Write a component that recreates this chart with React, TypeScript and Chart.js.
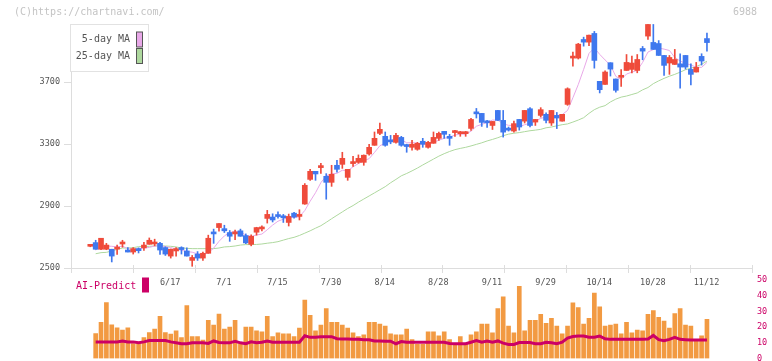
import React, { useEffect, useRef } from "react";
import { Chart, registerables } from "chart.js";
Chart.register(...registerables);

// ---- data (trading days 2025/5/27 .. 11/12) ----
const OPEN = [
  2640, 2664, 2621, 2621, 2621, 2622, 2655, 2616, 2603, 2621,
  2630, 2653, 2655, 2659, 2632, 2577, 2610, 2623, 2610, 2549,
  2590, 2564, 2595, 2726, 2761, 2754, 2729, 2720, 2740, 2709,
  2653, 2731, 2752, 2820, 2829, 2838, 2833, 2794, 2854, 2833,
  2913, 3072, 3124, 3148, 3092, 3053, 3163, 3169, 3085, 3174,
  3182, 3182, 3236, 3292, 3369, 3350, 3322, 3311, 3343, 3290,
  3279, 3266, 3318, 3279, 3305, 3337, 3382, 3342, 3374, 3367,
  3367, 3401, 3500, 3498, 3443, 3420, 3517, 3453, 3395, 3384,
  3459, 3448, 3528, 3442, 3485, 3492, 3436, 3485, 3448, 3556,
  3855, 3855, 3975, 3958, 4014, 3705, 3685, 3825, 3720, 3731,
  3775, 3782, 3775, 3917, 3997, 3956, 3949, 3872, 3823, 3814,
  3818, 3872, 3782, 3765, 3866, 3981,
];
const HIGH = [
  2643, 2679, 2692, 2659, 2621, 2648, 2679, 2632, 2632, 2630,
  2666, 2694, 2686, 2666, 2637, 2623, 2632, 2637, 2630, 2581,
  2606, 2603, 2712, 2751, 2787, 2776, 2742, 2744, 2751, 2720,
  2714, 2763, 2772, 2872, 2850, 2863, 2846, 2848, 2859, 2876,
  3045, 3137, 3124, 3176, 3109, 3163, 3195, 3247, 3137, 3221,
  3230, 3230, 3299, 3378, 3436, 3378, 3356, 3369, 3350, 3299,
  3324, 3311, 3337, 3318, 3378, 3378, 3382, 3363, 3388, 3382,
  3382, 3466, 3530, 3498, 3453, 3446, 3517, 3517, 3410, 3448,
  3459, 3517, 3535, 3459, 3535, 3502, 3517, 3504, 3492, 3663,
  3894, 3950, 3990, 4003, 4027, 3705, 3772, 3825, 3720, 3780,
  3878, 3868, 3878, 3930, 4072, 4072, 3968, 3872, 3872, 3911,
  3883, 3872, 3818, 3827, 3883, 4016,
];
const LOW = [
  2637, 2621, 2619, 2618, 2539, 2588, 2634, 2603, 2590, 2597,
  2614, 2653, 2643, 2588, 2581, 2564, 2577, 2590, 2577, 2511,
  2549, 2549, 2595, 2659, 2737, 2729, 2672, 2683, 2705, 2657,
  2643, 2712, 2740, 2790, 2797, 2822, 2794, 2771, 2822, 2810,
  2911, 3066, 3066, 3111, 2944, 3027, 3118, 3143, 3066, 3156,
  3176, 3163, 3228, 3292, 3360, 3286, 3302, 3305, 3286, 3247,
  3260, 3260, 3279, 3273, 3305, 3324, 3337, 3292, 3350, 3350,
  3350, 3388, 3468, 3414, 3408, 3394, 3453, 3345, 3384, 3377,
  3390, 3436, 3410, 3420, 3474, 3436, 3420, 3400, 3448, 3550,
  3803, 3849, 3932, 3935, 3790, 3630, 3685, 3739, 3635, 3672,
  3775, 3759, 3760, 3844, 3975, 3911, 3872, 3743, 3750, 3814,
  3661, 3784, 3681, 3765, 3810, 3900,
];
const CLOSE = [
  2641, 2621, 2692, 2648, 2577, 2627, 2659, 2603, 2625, 2612,
  2648, 2679, 2658, 2616, 2590, 2621, 2625, 2619, 2577, 2568,
  2564, 2595, 2692, 2720, 2787, 2740, 2705, 2731, 2705, 2662,
  2705, 2761, 2761, 2846, 2810, 2832, 2824, 2833, 2829, 2837,
  3034, 3124, 3107, 3152, 3053, 3105, 3137, 3208, 3137, 3178,
  3208, 3228, 3279, 3337, 3395, 3292, 3314, 3356, 3292, 3284,
  3299, 3305, 3299, 3311, 3343, 3369, 3363, 3337, 3378, 3371,
  3371, 3459, 3495, 3440, 3437, 3446, 3453, 3377, 3390, 3432,
  3410, 3517, 3420, 3459, 3522, 3453, 3517, 3468, 3492, 3657,
  3860, 3945, 3958, 4003, 3840, 3651, 3765, 3784, 3647, 3737,
  3827, 3823, 3846, 3900, 4072, 3911, 3872, 3808, 3859, 3846,
  3797, 3797, 3750, 3795, 3836, 3955,
];
const MA5 = [
  null, 2615, 2640, 2642, 2640, 2636, 2641, 2625, 2620, 2625,
  2628, 2633, 2642, 2643, 2638, 2632, 2622, 2614, 2606, 2602,
  2591, 2586, 2599, 2628, 2672, 2707, 2729, 2737, 2734, 2712,
  2703, 2713, 2719, 2747, 2777, 2802, 2815, 2829, 2826, 2831,
  2871, 2931, 2986, 3051, 3094, 3108, 3111, 3131, 3128, 3153,
  3174, 3192, 3206, 3246, 3289, 3306, 3323, 3339, 3330, 3308,
  3309, 3307, 3296, 3300, 3311, 3325, 3337, 3345, 3358, 3364,
  3364, 3383, 3415, 3427, 3440, 3455, 3454, 3431, 3421, 3420,
  3412, 3425, 3434, 3448, 3466, 3474, 3474, 3484, 3490, 3517,
  3599, 3684, 3782, 3885, 3921, 3879, 3843, 3809, 3737, 3717,
  3752, 3764, 3776, 3827, 3894, 3910, 3920, 3913, 3904, 3859,
  3836, 3821, 3810, 3797, 3795, 3827,
];
const MA25 = [
  null, 2592, 2599, 2601, 2610, 2620, 2629, 2629, 2631, 2638,
  2638, 2640, 2642, 2644, 2642, 2640, 2636, 2629, 2627, 2625,
  2625, 2625, 2625, 2625, 2629, 2636, 2638, 2642, 2648, 2651,
  2651, 2652, 2655, 2660, 2664, 2670, 2680, 2690, 2698, 2710,
  2725, 2740, 2757, 2773, 2795, 2818, 2840, 2862, 2884, 2903,
  2925, 2945, 2965, 2985, 3005, 3025, 3050, 3072, 3095, 3110,
  3127, 3145, 3165, 3184, 3203, 3222, 3238, 3252, 3264, 3272,
  3279, 3288, 3298, 3308, 3320, 3330, 3341, 3354, 3364, 3370,
  3374, 3380, 3386, 3390, 3395, 3405, 3410, 3418, 3425, 3430,
  3442, 3455, 3470, 3498, 3522, 3538, 3548, 3572, 3590, 3603,
  3610, 3620, 3630, 3650, 3665, 3690, 3708, 3724, 3738, 3750,
  3764, 3780, 3790, 3800, 3815, 3835,
];
const VOLUME = [
  null, 15.9, 23.1, 35.7, 21.5, 19.6, 18.2, 19.6, 9.5, 9.5,
  13.3, 16.5, 18.8, 26.9, 16.5, 15.6, 17.6, 13.3, 33.8, 13.9,
  13.9, 11.8, 24.4, 21.3, 28.3, 18.8, 20.1, 24.4, 9.5, 20.1,
  20.1, 17.6, 17.0, 26.9, 13.9, 16.4, 15.7, 15.7, 13.9, 19.4,
  37.3, 27.5, 17.6, 21.3, 31.8, 23.1, 23.1, 21.3, 19.4, 16.4,
  13.9, 15.1, 23.1, 23.1, 22.0, 20.7, 15.7, 15.1, 15.1, 18.8,
  12.0, 9.0, 9.0, 17.0, 17.0, 14.5, 17.0, 12.0, 9.0, 13.9,
  9.0, 15.1, 17.0, 22.0, 22.0, 16.4, 31.8, 39.3, 20.7, 16.4,
  46.0, 17.6, 24.4, 24.4, 28.1, 22.5, 25.6, 20.7, 15.7, 20.7,
  35.5, 32.4, 22.0, 25.6, 41.7, 33.0, 20.7, 21.3, 22.0, 15.7,
  23.1, 16.4, 18.2, 17.6, 28.1, 30.6, 26.2, 23.8, 19.4, 28.7,
  31.8, 21.3, 20.7, 11.4, 14.5, 25.0,
];
const AI_PREDICT = [
  null, 10.6, 10.6, 10.6, 10.6, 10.6, 11.2, 10.6, 10.6, 10.0,
  10.6, 11.4, 11.4, 11.4, 11.4, 10.6, 10.0, 9.4, 9.4, 10.0,
  10.0, 10.0, 9.6, 11.2, 10.2, 10.0, 10.0, 11.0, 10.0, 9.4,
  10.6, 10.0, 10.4, 11.2, 10.4, 10.4, 10.4, 10.4, 10.4, 10.4,
  14.5, 13.5, 13.5, 13.9, 13.9, 13.9, 12.6, 12.4, 12.4, 12.2,
  12.2, 12.0, 12.0, 11.2, 11.2, 11.0, 11.0, 9.4, 10.8, 10.4,
  10.4, 10.4, 10.4, 10.4, 10.4, 10.4, 10.4, 9.6, 9.4, 9.4,
  9.4, 10.4, 11.4, 10.4, 11.2, 10.4, 11.2, 9.8, 9.0, 9.0,
  10.2, 10.2, 10.2, 9.4, 9.4, 10.4, 10.0, 9.4, 10.4, 13.0,
  14.0, 14.3, 14.3, 13.5, 13.5, 14.3, 12.6, 12.2, 12.2, 12.2,
  12.2, 12.2, 12.2, 12.2, 12.4, 14.7, 12.0, 11.4, 12.2, 13.5,
  12.2, 12.0, 11.8, 11.8, 11.8, 11.8,
];
const DATE_LABELS = ["6/17", "7/1", "7/15", "7/30", "8/14", "8/28", "9/11", "9/29", "10/14", "10/28", "11/12"];
const DATE_INDEX = [15, 25, 35, 45, 55, 65, 75, 85, 95, 105, 115];
const PRICE_TICKS = [2500, 2900, 3300, 3700];
const VOL_TICKS = [0, 10, 20, 30, 40, 50];
const LEGEND_LABELS = ["5-day MA", "25-day MA"];
const COPYRIGHT = "(C)https://chartnavi.com/";
const CODE = "6988";
const AI_LABEL = "AI-Predict";

// ---- style ----
const X_MIN = -3.6;
const X_MAX = 123.4;
const X_DIVISIONS = 11;
const UP = "#ef4b3b";
const DOWN = "#3f78ee";
const PINK = "#e8a8e8";
const GREEN = "#aed89e";
const ORANGE = "#f29a42";
const MAGENTA = "#cc0066";
const AXIS = "#dddddd";
const MONO = '"DejaVu Sans Mono", "Liberation Mono", monospace';

const pts = (arr: (number | null)[]) =>
  arr.map((v, i) => (v == null ? null : { x: i, y: v })).filter(Boolean) as { x: number; y: number }[];

export default function App() {
  const topRef = useRef<HTMLCanvasElement>(null);
  const botRef = useRef<HTMLCanvasElement>(null);

  useEffect(() => {
    const idx = OPEN.map((_, i) => i);
    const candleColor = (c: any) => (CLOSE[c.dataIndex] >= OPEN[c.dataIndex] ? UP : DOWN);

    const topPlugin = {
      id: "topDecor",
      afterDraw(chart: any) {
        const ctx = chart.ctx;
        const xs = chart.scales.x;
        const area = chart.chartArea;
        ctx.save();
        // x-axis tick marks
        ctx.strokeStyle = AXIS;
        ctx.lineWidth = 1;
        for (let k = 0; k <= X_DIVISIONS; k++) {
          const px = Math.round(xs.getPixelForValue(X_MIN + (k * (X_MAX - X_MIN)) / X_DIVISIONS)) + 0.5;
          ctx.beginPath();
          ctx.moveTo(px, area.bottom - 3);
          ctx.lineTo(px, area.bottom + 5);
          ctx.stroke();
        }
        // date labels
        ctx.font = "8.5px " + MONO;
        ctx.fillStyle = "#555555";
        ctx.textAlign = "center";
        ctx.textBaseline = "middle";
        DATE_INDEX.forEach((d, k) => ctx.fillText(DATE_LABELS[k], xs.getPixelForValue(d) - 0.5, 282.5));
        // header texts
        ctx.font = "10px " + MONO;
        ctx.fillStyle = "#c4c4c4";
        ctx.textAlign = "left";
        ctx.fillText(COPYRIGHT, 14, 12.5);
        ctx.textAlign = "right";
        ctx.fillText(CODE, 757, 12.5);
        // legend box
        ctx.fillStyle = "#ffffff";
        ctx.fillRect(70.5, 24.5, 78, 47);
        ctx.strokeStyle = "#e2e2e2";
        ctx.strokeRect(70.5, 24.5, 78, 47);
        const sw = [PINK, GREEN];
        const ys = [39.5, 56];
        LEGEND_LABELS.forEach((t, k) => {
          ctx.fillStyle = "#555555";
          ctx.textAlign = "right";
          ctx.fillText(t, 130, ys[k]);
          ctx.fillStyle = sw[k];
          ctx.fillRect(136.5, ys[k] - 7.5, 6, 15);
          ctx.strokeStyle = "#555555";
          ctx.strokeRect(136.5, ys[k] - 7.5, 6, 15);
        });
        ctx.restore();
      },
    };

    const top = new Chart(topRef.current!, {
      type: "bar",
      data: {
        datasets: [
          {
            type: "bar",
            data: idx.map((i) => ({ x: i, y: [OPEN[i], CLOSE[i]] })) as any,
            backgroundColor: candleColor,
            barThickness: 5,
            minBarLength: 2,
            grouped: false,
            order: 0,
          },
          {
            type: "bar",
            data: idx.map((i) => ({ x: i, y: [LOW[i], HIGH[i]] })) as any,
            backgroundColor: candleColor,
            barThickness: 1,
            grouped: false,
            order: 1,
          },
          {
            type: "line",
            data: pts(MA5) as any,
            borderColor: PINK,
            borderWidth: 1,
            pointRadius: 0,
            tension: 0,
            order: 2,
          },
          {
            type: "line",
            data: pts(MA25) as any,
            borderColor: GREEN,
            borderWidth: 1,
            pointRadius: 0,
            tension: 0,
            order: 3,
          },
        ],
      },
      options: {
        animation: false,
        responsive: false,
        devicePixelRatio: 1,
        events: [],
        layout: { padding: { left: 0, right: 20, top: 24, bottom: 0 } },
        plugins: { legend: { display: false }, tooltip: { enabled: false } },
        scales: {
          x: {
            type: "linear",
            min: X_MIN,
            max: X_MAX,
            offset: false,
            grid: { display: false },
            ticks: { display: false },
            border: { display: true, color: AXIS },
            afterFit: (s: any) => {
              s.height = 27;
            },
          },
          y: {
            type: "linear",
            position: "left",
            min: 2500,
            max: 4075,
            afterBuildTicks: (s: any) => {
              s.ticks = PRICE_TICKS.map((v) => ({ value: v }));
            },
            afterFit: (s: any) => {
              s.width = 71;
            },
            grid: { display: true, drawOnChartArea: false, drawTicks: true, tickLength: 7, color: AXIS },
            border: { display: true, color: AXIS },
            ticks: {
              font: { family: MONO, size: 8.5 },
              color: "#555555",
              padding: 4,
              callback: (v: any) => String(v),
            },
          },
        },
      } as any,
      plugins: [topPlugin],
    });

    const botPlugin = {
      id: "botDecor",
      afterDraw(chart: any) {
        const ctx = chart.ctx;
        ctx.save();
        ctx.font = "10px " + MONO;
        ctx.fillStyle = MAGENTA;
        ctx.textAlign = "left";
        ctx.textBaseline = "middle";
        ctx.fillText(AI_LABEL, 76, 16);
        ctx.fillRect(142, 7.5, 7, 15);
        ctx.restore();
      },
    };

    const bot = new Chart(botRef.current!, {
      type: "bar",
      data: {
        datasets: [
          {
            type: "line",
            data: pts(AI_PREDICT) as any,
            borderColor: MAGENTA,
            borderWidth: 3,
            pointRadius: 0,
            tension: 0,
            order: 0,
          },
          {
            type: "bar",
            data: pts(VOLUME) as any,
            backgroundColor: ORANGE,
            barThickness: 4,
            grouped: false,
            order: 1,
          },
        ],
      },
      options: {
        animation: false,
        responsive: false,
        devicePixelRatio: 1,
        events: [],
        layout: { padding: { left: 71, right: 0, top: 7.5, bottom: 11.5 } },
        plugins: { legend: { display: false }, tooltip: { enabled: false } },
        scales: {
          x: { type: "linear", min: X_MIN, max: X_MAX, offset: false, display: false },
          y: {
            type: "linear",
            position: "right",
            min: 0,
            max: 50,
            afterBuildTicks: (s: any) => {
              s.ticks = VOL_TICKS.map((v) => ({ value: v }));
            },
            afterFit: (s: any) => {
              s.width = 20;
            },
            grid: { display: false, drawTicks: false },
            border: { display: false },
            ticks: { font: { family: MONO, size: 8.5 }, color: MAGENTA, padding: 5 },
          },
        },
      } as any,
      plugins: [botPlugin],
    });

    return () => {
      top.destroy();
      bot.destroy();
    };
  }, []);

  return (
    <div
      style={{
        position: "fixed",
        left: 0,
        top: 0,
        width: 772,
        height: 361,
        overflow: "hidden",
        background: "#ffffff",
      }}
    >
      <canvas ref={topRef} width={772} height={295} style={{ position: "absolute", left: 0, top: 0, display: "block" }} />
      <canvas ref={botRef} width={772} height={100} style={{ position: "absolute", left: 0, top: 270, display: "block" }} />
    </div>
  );
}
